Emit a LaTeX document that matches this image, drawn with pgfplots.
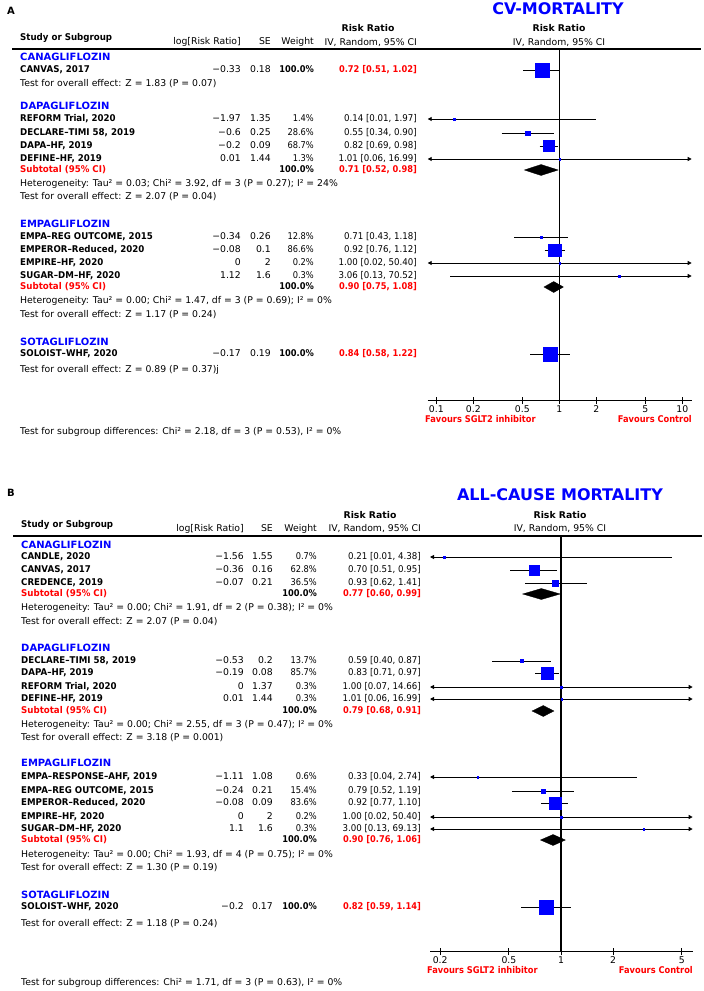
\documentclass[border=0pt]{standalone}
\usepackage{fontspec}
\setmainfont{DejaVu Sans}
\newfontfamily\nar{DejaVu Sans}[FakeStretch=0.93]
\newfontfamily\narr{DejaVu Sans}[FakeStretch=0.89]
\usepackage{pgfplots}
\pgfplotsset{compat=1.18}
\usetikzlibrary{arrows.meta}
\definecolor{rmblue}{RGB}{0,0,255}
\definecolor{rmred}{RGB}{255,0,0}
\newcommand\fs{\fontsize{9.3bp}{11bp}\selectfont}
\tikzset{
  tl/.style={anchor=mid west, inner sep=0pt, font=\fs},
  tr/.style={anchor=mid east, inner sep=0pt, font=\fs},
  tc/.style={anchor=mid, inner sep=0pt, font=\fs},
}
\pgfplotsset{
  cib/.style={black, line width=0.9bp, mark=none},
  cila/.style={cib, {Triangle[length=4bp,width=4bp]}-},
  cira/.style={cib, -{Triangle[length=4bp,width=4bp]}},
  ciba/.style={cib, {Triangle[length=4bp,width=4bp]}-{Triangle[length=4bp,width=4bp]}},
  sqm/.style={only marks, mark=square*, mark options={fill=rmblue, draw=rmblue, line width=0.2bp}},
  dmd/.style={fill=black, draw=black, mark=none, line width=0.3bp},
  vln/.style={black, line width=1.2bp, mark=none},
}
% column positions
\def\setA{\def\xn{20}\def\xl{241}\def\xs{271}\def\xw{314}\def\xr{417}}
\def\setB{\def\xn{21}\def\xl{244}\def\xs{273}\def\xw{317}\def\xr{421}}
\newcommand\srow[6]{%
  \node[tl] at (\xn bp,-#1bp) {\nar\bfseries #2};
  \node[tr] at (\xl bp,-#1bp) {#3};
  \node[tr] at (\xs bp,-#1bp) {#4};
  \node[tr] at (\xw bp,-#1bp) {\narr #5};
  \node[tr] at (\xr bp,-#1bp) {\nar #6};}
\newcommand\trow[6]{%
  \node[tl] at (\xn bp,-#1bp) {\nar\bfseries #2};
  \node[tr] at (\xl bp,-#1bp) {#3};
  \node[tr] at (\xs bp,-#1bp) {#4};
  \node[tr] at (\xw bp,-#1bp) {\narr\bfseries #5};
  \node[tr, text=rmred] at (\xr bp,-#1bp) {\narr\bfseries #6};}
\newcommand\subrow[2]{%
  \node[tl, text=rmred] at (\xn bp,-#1bp) {\nar\bfseries Subtotal (95\% CI)};
  \node[tr] at (\xw bp,-#1bp) {\narr\bfseries 100.0\%};
  \node[tr, text=rmred] at (\xr bp,-#1bp) {\narr\bfseries #2};}
\newcommand\grp[2]{\node[tl, text=rmblue, font=\fontsize{10bp}{12bp}\selectfont\bfseries] at (\xn bp,-#1bp) {#2};}
\newcommand\txt[2]{\node[tl] at (\xn bp,-#1bp) {#2};}
\begin{document}
\begin{tikzpicture}
\useasboundingbox (0,0) rectangle (704bp,-991bp);
%================ PANEL A ================
\setA
\node[anchor=base west, inner sep=0pt, font=\fontsize{10bp}{12bp}\selectfont\bfseries] at (7bp,-14bp) {A};
\node[anchor=base, inner sep=0pt, font=\fontsize{16bp}{18bp}\selectfont\bfseries, text=rmblue] at (558bp,-14bp) {CV-MORTALITY};
\node[tl, font=\fs\nar\bfseries] at (20bp,-38bp) {Study or Subgroup};
\node[tr] at (241bp,-42bp) {log[Risk Ratio]};
\node[tr] at (271bp,-42bp) {SE};
\node[tr] at (314bp,-42bp) {Weight};
\node[tc, font=\fs\bfseries] at (368bp,-29bp) {Risk Ratio};
\node[tr] at (417bp,-43bp) {IV, Random, 95\% CI};
\node[tc, font=\fs\bfseries] at (559bp,-29bp) {Risk Ratio};
\node[tc] at (559bp,-43bp) {IV, Random, 95\% CI};
\draw[line width=2bp] (12bp,-49bp) -- (701bp,-49bp);
\grp{58}{CANAGLIFLOZIN}
\trow{70}{CANVAS, 2017}{−0.33}{0.18}{100.0\%}{0.72 [0.51, 1.02]}
\txt{84}{Test for overall effect: Z = 1.83 (P = 0.07)}
\grp{107}{DAPAGLIFLOZIN}
\srow{119}{REFORM Trial, 2020}{−1.97}{1.35}{1.4\%}{0.14 [0.01, 1.97]}
\srow{133}{DECLARE–TIMI 58, 2019}{−0.6}{0.25}{28.6\%}{0.55 [0.34, 0.90]}
\srow{146}{DAPA–HF, 2019}{−0.2}{0.09}{68.7\%}{0.82 [0.69, 0.98]}
\srow{159}{DEFINE–HF, 2019}{0.01}{1.44}{1.3\%}{1.01 [0.06, 16.99]}
\subrow{170}{0.71 [0.52, 0.98]}
\txt{184}{Heterogeneity: Tau² = 0.03; Chi² = 3.92, df = 3 (P = 0.27); I² = 24\%}
\txt{197}{Test for overall effect: Z = 2.07 (P = 0.04)}
\grp{225}{EMPAGLIFLOZIN}
\srow{237}{EMPA–REG OUTCOME, 2015}{−0.34}{0.26}{12.8\%}{0.71 [0.43, 1.18]}
\srow{250}{EMPEROR–Reduced, 2020}{−0.08}{0.1}{86.6\%}{0.92 [0.76, 1.12]}
\srow{263}{EMPIRE–HF, 2020}{0}{2}{0.2\%}{1.00 [0.02, 50.40]}
\srow{276}{SUGAR–DM–HF, 2020}{1.12}{1.6}{0.3\%}{3.06 [0.13, 70.52]}
\subrow{287}{0.90 [0.75, 1.08]}
\txt{301}{Heterogeneity: Tau² = 0.00; Chi² = 1.47, df = 3 (P = 0.69); I² = 0\%}
\txt{315}{Test for overall effect: Z = 1.17 (P = 0.24)}
\grp{343}{SOTAGLIFLOZIN}
\trow{354}{SOLOIST–WHF, 2020}{−0.17}{0.19}{100.0\%}{0.84 [0.58, 1.22]}
\txt{370}{Test for overall effect: Z = 0.89 (P = 0.37)j}
\txt{432}{Test for subgroup differences: Chi² = 2.18, df = 3 (P = 0.53), I² = 0\%}
\node[tl, font=\fs\narr\bfseries, text=rmred] at (425bp,-420bp) {Favours SGLT2 inhibitor};
\node[tr, font=\fs\narr\bfseries, text=rmred] at (692bp,-420bp) {Favours Control};
\begin{axis}[scale only axis, anchor=south west, xmode=log, log basis x=10,
    axis x line*=bottom, axis y line=none, clip=false, xminorticks=false,
    tick align=center, major tick length=7bp,
    axis line style={line width=1.3bp},
    every tick/.style={black, line width=1bp},
    xticklabel style={font=\fs, inner sep=1.5bp},
    at={(427.7bp,-400.7bp)}, xmin=0.0851, xmax=11.92,
    ymin=-400.7, ymax=-49, width=264bp, height=351.7bp,
    xtick={0.1,0.2,0.5,1,2,5,10},
    xticklabels={\textnormal{0.1},\textnormal{0.2},\textnormal{0.5},\textnormal{1},\textnormal{2},\textnormal{5},\textnormal{10}}]
\addplot[vln] coordinates {(1,-49) (1,-400.7)};
% CANVAS
\addplot[cib] coordinates {(0.51,-70) (1.02,-70)};
\addplot[sqm, mark size=7.1bp] coordinates {(0.72,-70)};
% REFORM
\addplot[cila] coordinates {(0.0851,-119) (1.97,-119)};
\addplot[sqm, mark size=0.8bp] coordinates {(0.14,-119)};
% DECLARE
\addplot[cib] coordinates {(0.34,-133) (0.90,-133)};
\addplot[sqm, mark size=2.4bp] coordinates {(0.55,-133)};
% DAPA-HF
\addplot[cib] coordinates {(0.69,-146) (0.98,-146)};
\addplot[sqm, mark size=5.5bp] coordinates {(0.82,-146)};
% DEFINE-HF
\addplot[ciba] coordinates {(0.0851,-159) (11.92,-159)};
\addplot[sqm, mark size=0.7bp] coordinates {(1.01,-159)};
% Subtotal
\addplot[dmd] coordinates {(0.52,-170) (0.71,-164.5) (0.98,-170) (0.71,-175.5)} -- cycle;
% EMPA-REG
\addplot[cib] coordinates {(0.43,-237) (1.18,-237)};
\addplot[sqm, mark size=1.4bp] coordinates {(0.71,-237)};
% EMPEROR
\addplot[cib] coordinates {(0.76,-250) (1.12,-250)};
\addplot[sqm, mark size=6.3bp] coordinates {(0.92,-250)};
% EMPIRE
\addplot[ciba] coordinates {(0.0851,-263) (11.92,-263)};
\addplot[sqm, mark size=0.6bp] coordinates {(1.00,-263)};
% SUGAR
\addplot[cira] coordinates {(0.13,-276) (11.92,-276)};
\addplot[sqm, mark size=0.7bp] coordinates {(3.06,-276)};
% Subtotal
\addplot[dmd] coordinates {(0.75,-287) (0.90,-281.5) (1.08,-287) (0.90,-292.5)} -- cycle;
% SOLOIST
\addplot[cib] coordinates {(0.58,-354) (1.22,-354)};
\addplot[sqm, mark size=7.1bp] coordinates {(0.84,-354)};
\end{axis}
%================ PANEL B ================
\setB
\node[anchor=base west, inner sep=0pt, font=\fontsize{10bp}{12bp}\selectfont\bfseries] at (7bp,-496bp) {B};
\node[anchor=base, inner sep=0pt, font=\fontsize{16bp}{18bp}\selectfont\bfseries, text=rmblue] at (560bp,-500.5bp) {ALL-CAUSE MORTALITY};
\node[tl, font=\fs\nar\bfseries] at (21bp,-525bp) {Study or Subgroup};
\node[tr] at (244bp,-529bp) {log[Risk Ratio]};
\node[tr] at (273bp,-529bp) {SE};
\node[tr] at (317bp,-529bp) {Weight};
\node[tc, font=\fs\bfseries] at (370bp,-516bp) {Risk Ratio};
\node[tr] at (421bp,-529bp) {IV, Random, 95\% CI};
\node[tc, font=\fs\bfseries] at (560bp,-516bp) {Risk Ratio};
\node[tc] at (560bp,-529bp) {IV, Random, 95\% CI};
\draw[line width=2bp] (13bp,-536bp) -- (702bp,-536bp);
\grp{546}{CANAGLIFLOZIN}
\srow{557}{CANDLE, 2020}{−1.56}{1.55}{0.7\%}{0.21 [0.01, 4.38]}
\srow{570}{CANVAS, 2017}{−0.36}{0.16}{62.8\%}{0.70 [0.51, 0.95]}
\srow{583}{CREDENCE, 2019}{−0.07}{0.21}{36.5\%}{0.93 [0.62, 1.41]}
\subrow{594}{0.77 [0.60, 0.99]}
\txt{608}{Heterogeneity: Tau² = 0.00; Chi² = 1.91, df = 2 (P = 0.38); I² = 0\%}
\txt{622}{Test for overall effect: Z = 2.07 (P = 0.04)}
\grp{649}{DAPAGLIFLOZIN}
\srow{661}{DECLARE–TIMI 58, 2019}{−0.53}{0.2}{13.7\%}{0.59 [0.40, 0.87]}
\srow{673}{DAPA–HF, 2019}{−0.19}{0.08}{85.7\%}{0.83 [0.71, 0.97]}
\srow{687}{REFORM Trial, 2020}{0}{1.37}{0.3\%}{1.00 [0.07, 14.66]}
\srow{699}{DEFINE–HF, 2019}{0.01}{1.44}{0.3\%}{1.01 [0.06, 16.99]}
\subrow{711}{0.79 [0.68, 0.91]}
\txt{725}{Heterogeneity: Tau² = 0.00; Chi² = 2.55, df = 3 (P = 0.47); I² = 0\%}
\txt{738}{Test for overall effect: Z = 3.18 (P = 0.001)}
\grp{764}{EMPAGLIFLOZIN}
\srow{777}{EMPA–RESPONSE–AHF, 2019}{−1.11}{1.08}{0.6\%}{0.33 [0.04, 2.74]}
\srow{791}{EMPA–REG OUTCOME, 2015}{−0.24}{0.21}{15.4\%}{0.79 [0.52, 1.19]}
\srow{803}{EMPEROR–Reduced, 2020}{−0.08}{0.09}{83.6\%}{0.92 [0.77, 1.10]}
\srow{817}{EMPIRE–HF, 2020}{0}{2}{0.2\%}{1.00 [0.02, 50.40]}
\srow{829}{SUGAR–DM–HF, 2020}{1.1}{1.6}{0.3\%}{3.00 [0.13, 69.13]}
\subrow{840}{0.90 [0.76, 1.06]}
\txt{855}{Heterogeneity: Tau² = 0.00; Chi² = 1.93, df = 4 (P = 0.75); I² = 0\%}
\txt{868}{Test for overall effect: Z = 1.30 (P = 0.19)}
\grp{896}{SOTAGLIFLOZIN}
\trow{907}{SOLOIST–WHF, 2020}{−0.2}{0.17}{100.0\%}{0.82 [0.59, 1.14]}
\txt{924}{Test for overall effect: Z = 1.18 (P = 0.24)}
\txt{983}{Test for subgroup differences: Chi² = 1.71, df = 3 (P = 0.63), I² = 0\%}
\node[tl, font=\fs\narr\bfseries, text=rmred] at (427bp,-971bp) {Favours SGLT2 inhibitor};
\node[tr, font=\fs\narr\bfseries, text=rmred] at (693bp,-971bp) {Favours Control};
\begin{axis}[scale only axis, anchor=south west, xmode=log, log basis x=10,
    axis x line*=bottom, axis y line=none, clip=false, xminorticks=false,
    tick align=center, major tick length=7bp,
    axis line style={line width=1.3bp},
    every tick/.style={black, line width=1bp},
    xticklabel style={font=\fs, inner sep=1.5bp},
    at={(430bp,-951.7bp)}, xmin=0.1747, xmax=5.777,
    ymin=-951.7, ymax=-536, width=262.7bp, height=415.7bp,
    xtick={0.2,0.5,1,2,5},
    xticklabels={\textnormal{0.2},\textnormal{0.5},\textnormal{1},\textnormal{2},\textnormal{5}}]
\addplot[vln] coordinates {(1,-536) (1,-951.7)};
% CANDLE
\addplot[cila] coordinates {(0.1747,-557) (4.38,-557)};
\addplot[sqm, mark size=0.8bp] coordinates {(0.21,-557)};
% CANVAS
\addplot[cib] coordinates {(0.51,-570) (0.95,-570)};
\addplot[sqm, mark size=4.85bp] coordinates {(0.70,-570)};
% CREDENCE
\addplot[cib] coordinates {(0.62,-583) (1.41,-583)};
\addplot[sqm, mark size=3bp] coordinates {(0.93,-583)};
% Subtotal
\addplot[dmd] coordinates {(0.60,-594) (0.77,-588.5) (0.99,-594) (0.77,-599.5)} -- cycle;
% DECLARE
\addplot[cib] coordinates {(0.40,-661) (0.87,-661)};
\addplot[sqm, mark size=1.5bp] coordinates {(0.59,-661)};
% DAPA-HF
\addplot[cib] coordinates {(0.71,-673) (0.97,-673)};
\addplot[sqm, mark size=6.15bp] coordinates {(0.83,-673)};
% REFORM
\addplot[ciba] coordinates {(0.1747,-687) (5.777,-687)};
\addplot[sqm, mark size=0.6bp] coordinates {(1.00,-687)};
% DEFINE
\addplot[ciba] coordinates {(0.1747,-699) (5.777,-699)};
\addplot[sqm, mark size=0.6bp] coordinates {(1.01,-699)};
% Subtotal
\addplot[dmd] coordinates {(0.68,-711) (0.79,-705.5) (0.91,-711) (0.79,-716.5)} -- cycle;
% EMPA-RESPONSE
\addplot[cila] coordinates {(0.1747,-777) (2.74,-777)};
\addplot[sqm, mark size=0.8bp] coordinates {(0.33,-777)};
% EMPA-REG
\addplot[cib] coordinates {(0.52,-791) (1.19,-791)};
\addplot[sqm, mark size=2bp] coordinates {(0.79,-791)};
% EMPEROR
\addplot[cib] coordinates {(0.77,-803) (1.10,-803)};
\addplot[sqm, mark size=5.85bp] coordinates {(0.92,-803)};
% EMPIRE
\addplot[ciba] coordinates {(0.1747,-817) (5.777,-817)};
\addplot[sqm, mark size=0.6bp] coordinates {(1.00,-817)};
% SUGAR
\addplot[ciba] coordinates {(0.1747,-829) (5.777,-829)};
\addplot[sqm, mark size=0.7bp] coordinates {(3.00,-829)};
% Subtotal
\addplot[dmd] coordinates {(0.76,-840) (0.90,-834.5) (1.06,-840) (0.90,-845.5)} -- cycle;
% SOLOIST
\addplot[cib] coordinates {(0.59,-907) (1.14,-907)};
\addplot[sqm, mark size=7.1bp] coordinates {(0.82,-907)};
\end{axis}
\end{tikzpicture}
\end{document}
